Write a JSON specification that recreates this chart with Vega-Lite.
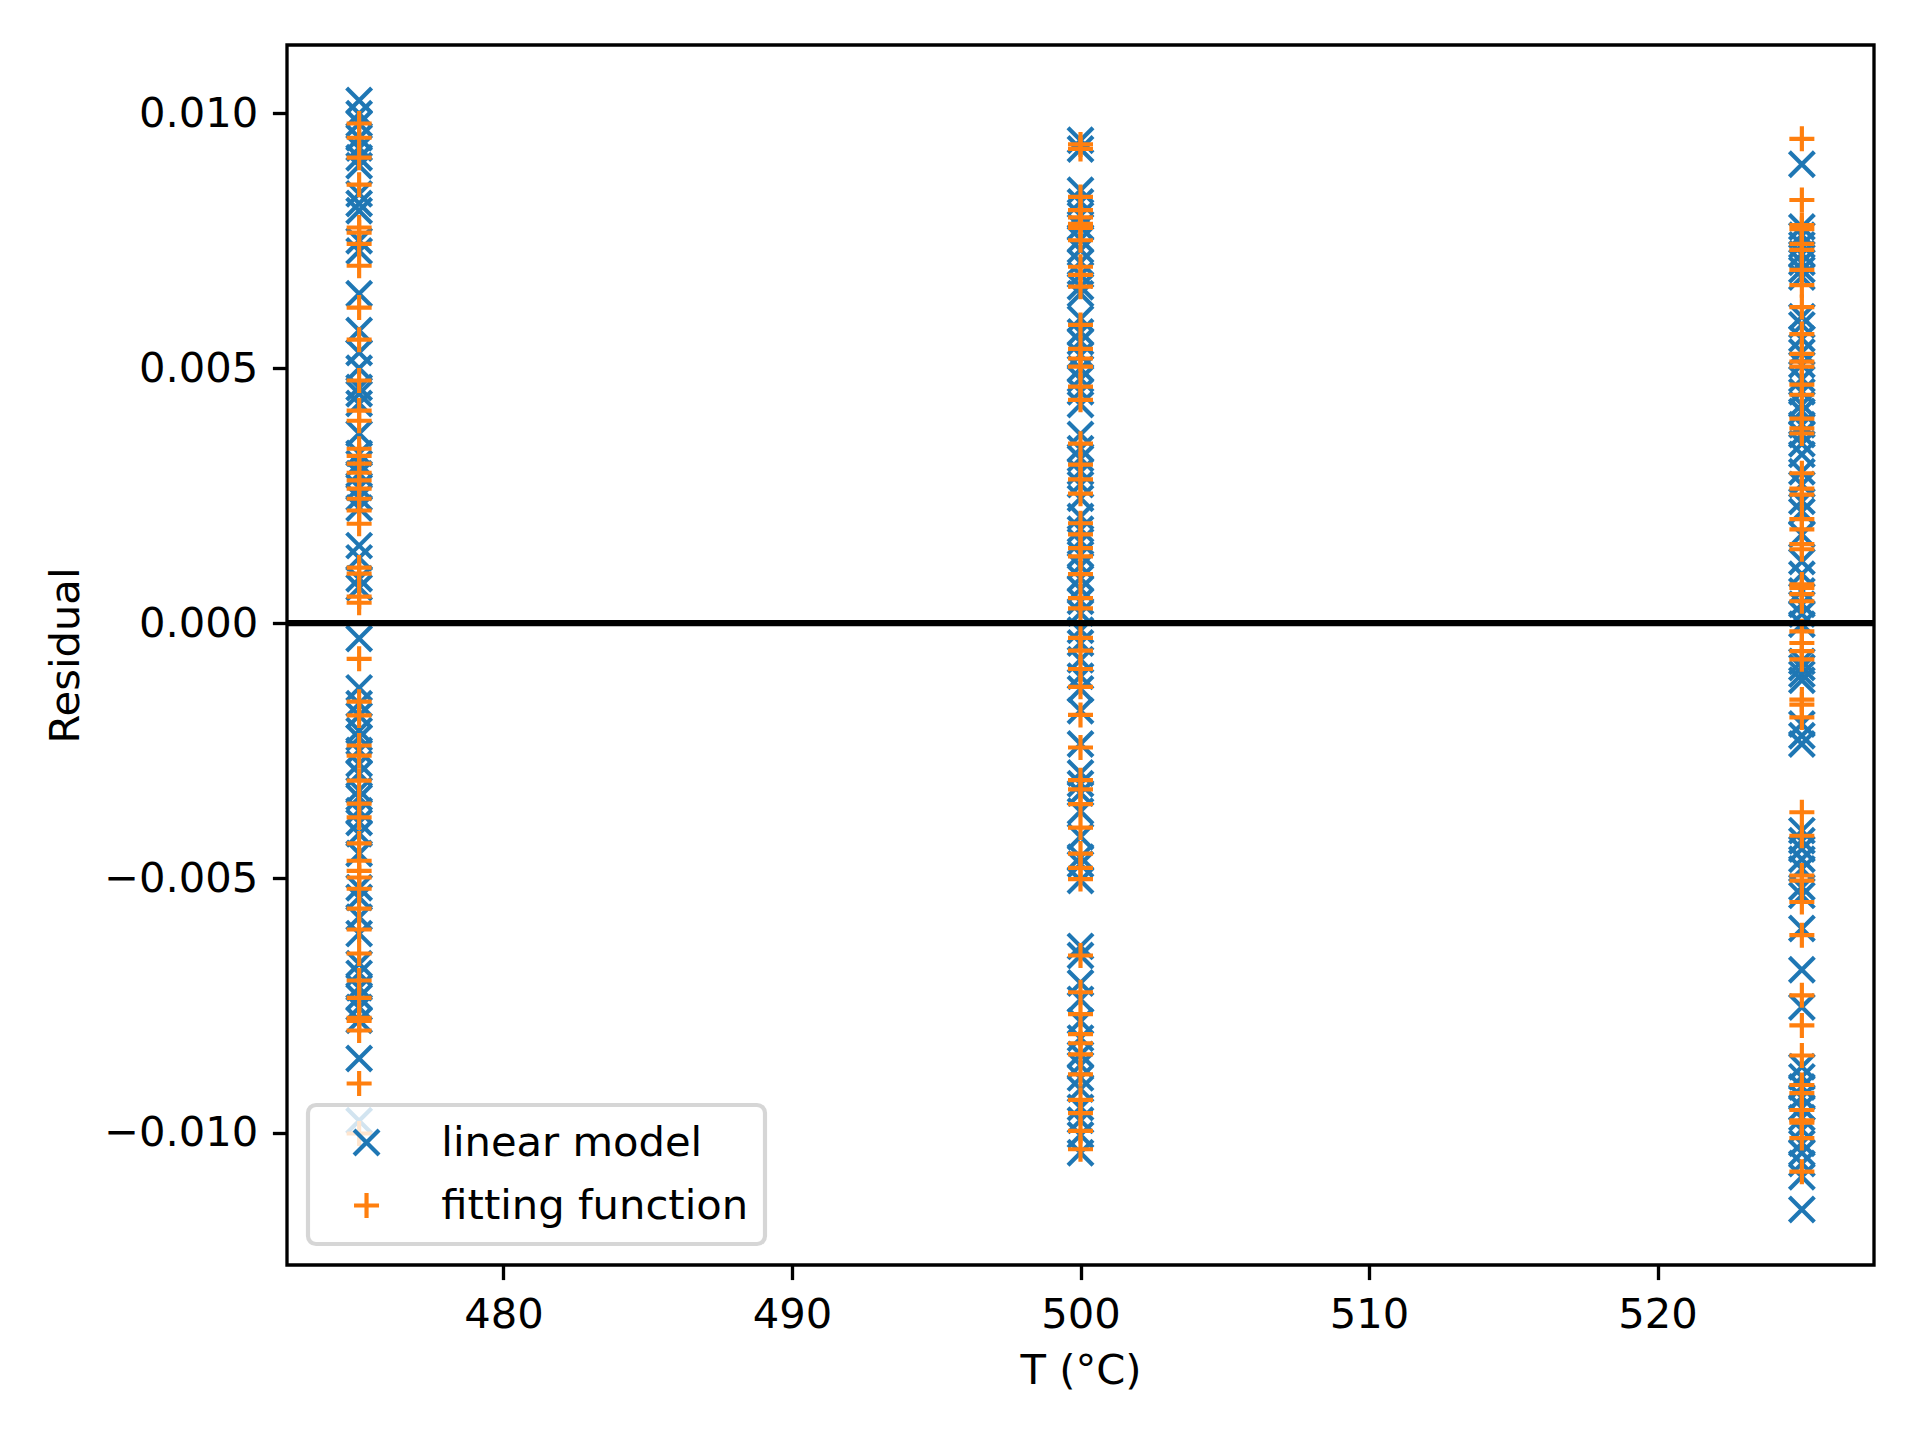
{
  "$schema": "https://vega.github.io/schema/vega-lite/v6.json",
  "width": 1587,
  "height": 1220,
  "autosize": "none",
  "padding": {"left": 287, "top": 45, "right": 46, "bottom": 175},
  "background": "white",
  "datasets": {
    "residuals": [
      {"T": 475, "m": "linear model", "r": 0.01025},
      {"T": 475, "m": "linear model", "r": 0.00999},
      {"T": 475, "m": "linear model", "r": 0.0098},
      {"T": 475, "m": "linear model", "r": 0.00952},
      {"T": 475, "m": "linear model", "r": 0.00932},
      {"T": 475, "m": "linear model", "r": 0.00913},
      {"T": 475, "m": "linear model", "r": 0.00897},
      {"T": 475, "m": "linear model", "r": 0.00842},
      {"T": 475, "m": "linear model", "r": 0.00823},
      {"T": 475, "m": "linear model", "r": 0.00809},
      {"T": 475, "m": "linear model", "r": 0.0075},
      {"T": 475, "m": "linear model", "r": 0.0073},
      {"T": 475, "m": "linear model", "r": 0.00646},
      {"T": 475, "m": "linear model", "r": 0.00574},
      {"T": 475, "m": "linear model", "r": 0.00531},
      {"T": 475, "m": "linear model", "r": 0.005},
      {"T": 475, "m": "linear model", "r": 0.00462},
      {"T": 475, "m": "linear model", "r": 0.0045},
      {"T": 475, "m": "linear model", "r": 0.00431},
      {"T": 475, "m": "linear model", "r": 0.00372},
      {"T": 475, "m": "linear model", "r": 0.00333},
      {"T": 475, "m": "linear model", "r": 0.00313},
      {"T": 475, "m": "linear model", "r": 0.00293},
      {"T": 475, "m": "linear model", "r": 0.00266},
      {"T": 475, "m": "linear model", "r": 0.00246},
      {"T": 475, "m": "linear model", "r": 0.00226},
      {"T": 475, "m": "linear model", "r": 0.00152},
      {"T": 475, "m": "linear model", "r": 0.00128},
      {"T": 475, "m": "linear model", "r": 0.00087},
      {"T": 475, "m": "linear model", "r": 0.0007},
      {"T": 475, "m": "linear model", "r": -0.0003},
      {"T": 475, "m": "linear model", "r": -0.00127},
      {"T": 475, "m": "linear model", "r": -0.00158},
      {"T": 475, "m": "linear model", "r": -0.00181},
      {"T": 475, "m": "linear model", "r": -0.00211},
      {"T": 475, "m": "linear model", "r": -0.00225},
      {"T": 475, "m": "linear model", "r": -0.0025},
      {"T": 475, "m": "linear model", "r": -0.00276},
      {"T": 475, "m": "linear model", "r": -0.00295},
      {"T": 475, "m": "linear model", "r": -0.00328},
      {"T": 475, "m": "linear model", "r": -0.00342},
      {"T": 475, "m": "linear model", "r": -0.00368},
      {"T": 475, "m": "linear model", "r": -0.00391},
      {"T": 475, "m": "linear model", "r": -0.00413},
      {"T": 475, "m": "linear model", "r": -0.00452},
      {"T": 475, "m": "linear model", "r": -0.00519},
      {"T": 475, "m": "linear model", "r": -0.00538},
      {"T": 475, "m": "linear model", "r": -0.00577},
      {"T": 475, "m": "linear model", "r": -0.00609},
      {"T": 475, "m": "linear model", "r": -0.00668},
      {"T": 475, "m": "linear model", "r": -0.00687},
      {"T": 475, "m": "linear model", "r": -0.00715},
      {"T": 475, "m": "linear model", "r": -0.00734},
      {"T": 475, "m": "linear model", "r": -0.00754},
      {"T": 475, "m": "linear model", "r": -0.00779},
      {"T": 475, "m": "linear model", "r": -0.00854},
      {"T": 475, "m": "linear model", "r": -0.00976},
      {"T": 500, "m": "linear model", "r": 0.00947},
      {"T": 500, "m": "linear model", "r": 0.0093},
      {"T": 500, "m": "linear model", "r": 0.00849},
      {"T": 500, "m": "linear model", "r": 0.00826},
      {"T": 500, "m": "linear model", "r": 0.008},
      {"T": 500, "m": "linear model", "r": 0.00777},
      {"T": 500, "m": "linear model", "r": 0.00753},
      {"T": 500, "m": "linear model", "r": 0.00732},
      {"T": 500, "m": "linear model", "r": 0.00708},
      {"T": 500, "m": "linear model", "r": 0.00683},
      {"T": 500, "m": "linear model", "r": 0.0066},
      {"T": 500, "m": "linear model", "r": 0.00646},
      {"T": 500, "m": "linear model", "r": 0.00597},
      {"T": 500, "m": "linear model", "r": 0.00571},
      {"T": 500, "m": "linear model", "r": 0.00552},
      {"T": 500, "m": "linear model", "r": 0.00526},
      {"T": 500, "m": "linear model", "r": 0.00499},
      {"T": 500, "m": "linear model", "r": 0.00479},
      {"T": 500, "m": "linear model", "r": 0.00454},
      {"T": 500, "m": "linear model", "r": 0.00429},
      {"T": 500, "m": "linear model", "r": 0.0037},
      {"T": 500, "m": "linear model", "r": 0.00342},
      {"T": 500, "m": "linear model", "r": 0.00323},
      {"T": 500, "m": "linear model", "r": 0.00297},
      {"T": 500, "m": "linear model", "r": 0.00272},
      {"T": 500, "m": "linear model", "r": 0.00245},
      {"T": 500, "m": "linear model", "r": 0.00209},
      {"T": 500, "m": "linear model", "r": 0.00184},
      {"T": 500, "m": "linear model", "r": 0.0016},
      {"T": 500, "m": "linear model", "r": 0.00135},
      {"T": 500, "m": "linear model", "r": 0.00112},
      {"T": 500, "m": "linear model", "r": 0.00088},
      {"T": 500, "m": "linear model", "r": 0.00067},
      {"T": 500, "m": "linear model", "r": 0.00043},
      {"T": 500, "m": "linear model", "r": 0.0002},
      {"T": 500, "m": "linear model", "r": -0.00014},
      {"T": 500, "m": "linear model", "r": -0.00039},
      {"T": 500, "m": "linear model", "r": -0.00072},
      {"T": 500, "m": "linear model", "r": -0.00104},
      {"T": 500, "m": "linear model", "r": -0.00129},
      {"T": 500, "m": "linear model", "r": -0.00172},
      {"T": 500, "m": "linear model", "r": -0.00237},
      {"T": 500, "m": "linear model", "r": -0.00294},
      {"T": 500, "m": "linear model", "r": -0.00315},
      {"T": 500, "m": "linear model", "r": -0.00333},
      {"T": 500, "m": "linear model", "r": -0.00369},
      {"T": 500, "m": "linear model", "r": -0.00419},
      {"T": 500, "m": "linear model", "r": -0.00459},
      {"T": 500, "m": "linear model", "r": -0.00473},
      {"T": 500, "m": "linear model", "r": -0.00505},
      {"T": 500, "m": "linear model", "r": -0.00634},
      {"T": 500, "m": "linear model", "r": -0.00652},
      {"T": 500, "m": "linear model", "r": -0.00706},
      {"T": 500, "m": "linear model", "r": -0.00738},
      {"T": 500, "m": "linear model", "r": -0.00781},
      {"T": 500, "m": "linear model", "r": -0.00814},
      {"T": 500, "m": "linear model", "r": -0.00846},
      {"T": 500, "m": "linear model", "r": -0.00867},
      {"T": 500, "m": "linear model", "r": -0.00892},
      {"T": 500, "m": "linear model", "r": -0.00914},
      {"T": 500, "m": "linear model", "r": -0.0095},
      {"T": 500, "m": "linear model", "r": -0.00975},
      {"T": 500, "m": "linear model", "r": -0.01004},
      {"T": 500, "m": "linear model", "r": -0.01039},
      {"T": 525, "m": "linear model", "r": 0.009},
      {"T": 525, "m": "linear model", "r": 0.00777},
      {"T": 525, "m": "linear model", "r": 0.00761},
      {"T": 525, "m": "linear model", "r": 0.00742},
      {"T": 525, "m": "linear model", "r": 0.00724},
      {"T": 525, "m": "linear model", "r": 0.00708},
      {"T": 525, "m": "linear model", "r": 0.00693},
      {"T": 525, "m": "linear model", "r": 0.00679},
      {"T": 525, "m": "linear model", "r": 0.00601},
      {"T": 525, "m": "linear model", "r": 0.00585},
      {"T": 525, "m": "linear model", "r": 0.00558},
      {"T": 525, "m": "linear model", "r": 0.00532},
      {"T": 525, "m": "linear model", "r": 0.00507},
      {"T": 525, "m": "linear model", "r": 0.00479},
      {"T": 525, "m": "linear model", "r": 0.00454},
      {"T": 525, "m": "linear model", "r": 0.00429},
      {"T": 525, "m": "linear model", "r": 0.00415},
      {"T": 525, "m": "linear model", "r": 0.00389},
      {"T": 525, "m": "linear model", "r": 0.0037},
      {"T": 525, "m": "linear model", "r": 0.00352},
      {"T": 525, "m": "linear model", "r": 0.00331},
      {"T": 525, "m": "linear model", "r": 0.00297},
      {"T": 525, "m": "linear model", "r": 0.00272},
      {"T": 525, "m": "linear model", "r": 0.00239},
      {"T": 525, "m": "linear model", "r": 0.00219},
      {"T": 525, "m": "linear model", "r": 0.00174},
      {"T": 525, "m": "linear model", "r": 0.00121},
      {"T": 525, "m": "linear model", "r": 0.00096},
      {"T": 525, "m": "linear model", "r": 0.00063},
      {"T": 525, "m": "linear model", "r": 0.00037},
      {"T": 525, "m": "linear model", "r": 0.00018},
      {"T": 525, "m": "linear model", "r": -0.00002},
      {"T": 525, "m": "linear model", "r": -0.00075},
      {"T": 525, "m": "linear model", "r": -0.00087},
      {"T": 525, "m": "linear model", "r": -0.001},
      {"T": 525, "m": "linear model", "r": -0.00112},
      {"T": 525, "m": "linear model", "r": -0.00198},
      {"T": 525, "m": "linear model", "r": -0.00221},
      {"T": 525, "m": "linear model", "r": -0.00237},
      {"T": 525, "m": "linear model", "r": -0.00407},
      {"T": 525, "m": "linear model", "r": -0.00427},
      {"T": 525, "m": "linear model", "r": -0.00443},
      {"T": 525, "m": "linear model", "r": -0.00463},
      {"T": 525, "m": "linear model", "r": -0.00482},
      {"T": 525, "m": "linear model", "r": -0.00518},
      {"T": 525, "m": "linear model", "r": -0.00534},
      {"T": 525, "m": "linear model", "r": -0.00599},
      {"T": 525, "m": "linear model", "r": -0.0068},
      {"T": 525, "m": "linear model", "r": -0.00753},
      {"T": 525, "m": "linear model", "r": -0.0087},
      {"T": 525, "m": "linear model", "r": -0.0089},
      {"T": 525, "m": "linear model", "r": -0.0091},
      {"T": 525, "m": "linear model", "r": -0.0093},
      {"T": 525, "m": "linear model", "r": -0.0095},
      {"T": 525, "m": "linear model", "r": -0.0097},
      {"T": 525, "m": "linear model", "r": -0.00994},
      {"T": 525, "m": "linear model", "r": -0.0102},
      {"T": 525, "m": "linear model", "r": -0.01039},
      {"T": 525, "m": "linear model", "r": -0.0106},
      {"T": 525, "m": "linear model", "r": -0.01086},
      {"T": 525, "m": "linear model", "r": -0.0115},
      {"T": 475, "m": "fitting function", "r": 0.0098},
      {"T": 475, "m": "fitting function", "r": 0.00952},
      {"T": 475, "m": "fitting function", "r": 0.00913},
      {"T": 475, "m": "fitting function", "r": 0.0086},
      {"T": 475, "m": "fitting function", "r": 0.00776},
      {"T": 475, "m": "fitting function", "r": 0.00766},
      {"T": 475, "m": "fitting function", "r": 0.00744},
      {"T": 475, "m": "fitting function", "r": 0.00701},
      {"T": 475, "m": "fitting function", "r": 0.00619},
      {"T": 475, "m": "fitting function", "r": 0.00556},
      {"T": 475, "m": "fitting function", "r": 0.00476},
      {"T": 475, "m": "fitting function", "r": 0.00417},
      {"T": 475, "m": "fitting function", "r": 0.00397},
      {"T": 475, "m": "fitting function", "r": 0.00342},
      {"T": 475, "m": "fitting function", "r": 0.00328},
      {"T": 475, "m": "fitting function", "r": 0.00313},
      {"T": 475, "m": "fitting function", "r": 0.00295},
      {"T": 475, "m": "fitting function", "r": 0.0028},
      {"T": 475, "m": "fitting function", "r": 0.00264},
      {"T": 475, "m": "fitting function", "r": 0.00244},
      {"T": 475, "m": "fitting function", "r": 0.00221},
      {"T": 475, "m": "fitting function", "r": 0.00195},
      {"T": 475, "m": "fitting function", "r": 0.00109},
      {"T": 475, "m": "fitting function", "r": 0.00097},
      {"T": 475, "m": "fitting function", "r": 0.00052},
      {"T": 475, "m": "fitting function", "r": 0.0004},
      {"T": 475, "m": "fitting function", "r": -0.0007},
      {"T": 475, "m": "fitting function", "r": -0.00154},
      {"T": 475, "m": "fitting function", "r": -0.00181},
      {"T": 475, "m": "fitting function", "r": -0.0024},
      {"T": 475, "m": "fitting function", "r": -0.0026},
      {"T": 475, "m": "fitting function", "r": -0.00309},
      {"T": 475, "m": "fitting function", "r": -0.00354},
      {"T": 475, "m": "fitting function", "r": -0.00381},
      {"T": 475, "m": "fitting function", "r": -0.00432},
      {"T": 475, "m": "fitting function", "r": -0.00466},
      {"T": 475, "m": "fitting function", "r": -0.00486},
      {"T": 475, "m": "fitting function", "r": -0.00499},
      {"T": 475, "m": "fitting function", "r": -0.00521},
      {"T": 475, "m": "fitting function", "r": -0.0056},
      {"T": 475, "m": "fitting function", "r": -0.00601},
      {"T": 475, "m": "fitting function", "r": -0.00648},
      {"T": 475, "m": "fitting function", "r": -0.00701},
      {"T": 475, "m": "fitting function", "r": -0.00735},
      {"T": 475, "m": "fitting function", "r": -0.00774},
      {"T": 475, "m": "fitting function", "r": -0.0078},
      {"T": 475, "m": "fitting function", "r": -0.00799},
      {"T": 475, "m": "fitting function", "r": -0.00903},
      {"T": 475, "m": "fitting function", "r": -0.01001},
      {"T": 500, "m": "fitting function", "r": 0.00939},
      {"T": 500, "m": "fitting function", "r": 0.0093},
      {"T": 500, "m": "fitting function", "r": 0.00836},
      {"T": 500, "m": "fitting function", "r": 0.0081},
      {"T": 500, "m": "fitting function", "r": 0.00796},
      {"T": 500, "m": "fitting function", "r": 0.00783},
      {"T": 500, "m": "fitting function", "r": 0.00775},
      {"T": 500, "m": "fitting function", "r": 0.00751},
      {"T": 500, "m": "fitting function", "r": 0.00699},
      {"T": 500, "m": "fitting function", "r": 0.00683},
      {"T": 500, "m": "fitting function", "r": 0.0066},
      {"T": 500, "m": "fitting function", "r": 0.00585},
      {"T": 500, "m": "fitting function", "r": 0.00538},
      {"T": 500, "m": "fitting function", "r": 0.00519},
      {"T": 500, "m": "fitting function", "r": 0.00503},
      {"T": 500, "m": "fitting function", "r": 0.00464},
      {"T": 500, "m": "fitting function", "r": 0.00438},
      {"T": 500, "m": "fitting function", "r": 0.00352},
      {"T": 500, "m": "fitting function", "r": 0.00311},
      {"T": 500, "m": "fitting function", "r": 0.00282},
      {"T": 500, "m": "fitting function", "r": 0.00254},
      {"T": 500, "m": "fitting function", "r": 0.00196},
      {"T": 500, "m": "fitting function", "r": 0.00174},
      {"T": 500, "m": "fitting function", "r": 0.00147},
      {"T": 500, "m": "fitting function", "r": 0.00131},
      {"T": 500, "m": "fitting function", "r": 0.00096},
      {"T": 500, "m": "fitting function", "r": 0.00049},
      {"T": 500, "m": "fitting function", "r": 0.00029},
      {"T": 500, "m": "fitting function", "r": -0.00029},
      {"T": 500, "m": "fitting function", "r": -0.00054},
      {"T": 500, "m": "fitting function", "r": -0.0009},
      {"T": 500, "m": "fitting function", "r": -0.00125},
      {"T": 500, "m": "fitting function", "r": -0.0018},
      {"T": 500, "m": "fitting function", "r": -0.00244},
      {"T": 500, "m": "fitting function", "r": -0.00308},
      {"T": 500, "m": "fitting function", "r": -0.00326},
      {"T": 500, "m": "fitting function", "r": -0.00355},
      {"T": 500, "m": "fitting function", "r": -0.00401},
      {"T": 500, "m": "fitting function", "r": -0.00452},
      {"T": 500, "m": "fitting function", "r": -0.0048},
      {"T": 500, "m": "fitting function", "r": -0.00502},
      {"T": 500, "m": "fitting function", "r": -0.00652},
      {"T": 500, "m": "fitting function", "r": -0.00724},
      {"T": 500, "m": "fitting function", "r": -0.00767},
      {"T": 500, "m": "fitting function", "r": -0.00806},
      {"T": 500, "m": "fitting function", "r": -0.00824},
      {"T": 500, "m": "fitting function", "r": -0.00846},
      {"T": 500, "m": "fitting function", "r": -0.00885},
      {"T": 500, "m": "fitting function", "r": -0.00935},
      {"T": 500, "m": "fitting function", "r": -0.00961},
      {"T": 500, "m": "fitting function", "r": -0.00996},
      {"T": 500, "m": "fitting function", "r": -0.01032},
      {"T": 525, "m": "fitting function", "r": 0.0095},
      {"T": 525, "m": "fitting function", "r": 0.0083},
      {"T": 525, "m": "fitting function", "r": 0.00781},
      {"T": 525, "m": "fitting function", "r": 0.00773},
      {"T": 525, "m": "fitting function", "r": 0.00744},
      {"T": 525, "m": "fitting function", "r": 0.00732},
      {"T": 525, "m": "fitting function", "r": 0.00693},
      {"T": 525, "m": "fitting function", "r": 0.00663},
      {"T": 525, "m": "fitting function", "r": 0.0062},
      {"T": 525, "m": "fitting function", "r": 0.00567},
      {"T": 525, "m": "fitting function", "r": 0.00528},
      {"T": 525, "m": "fitting function", "r": 0.00513},
      {"T": 525, "m": "fitting function", "r": 0.00503},
      {"T": 525, "m": "fitting function", "r": 0.00468},
      {"T": 525, "m": "fitting function", "r": 0.00448},
      {"T": 525, "m": "fitting function", "r": 0.00401},
      {"T": 525, "m": "fitting function", "r": 0.00382},
      {"T": 525, "m": "fitting function", "r": 0.00372},
      {"T": 525, "m": "fitting function", "r": 0.00294},
      {"T": 525, "m": "fitting function", "r": 0.00264},
      {"T": 525, "m": "fitting function", "r": 0.00252},
      {"T": 525, "m": "fitting function", "r": 0.00204},
      {"T": 525, "m": "fitting function", "r": 0.00184},
      {"T": 525, "m": "fitting function", "r": 0.00155},
      {"T": 525, "m": "fitting function", "r": 0.00145},
      {"T": 525, "m": "fitting function", "r": 0.00076},
      {"T": 525, "m": "fitting function", "r": 0.00069},
      {"T": 525, "m": "fitting function", "r": 0.00057},
      {"T": 525, "m": "fitting function", "r": 0.00043},
      {"T": 525, "m": "fitting function", "r": -0.00016},
      {"T": 525, "m": "fitting function", "r": -0.00039},
      {"T": 525, "m": "fitting function", "r": -0.00055},
      {"T": 525, "m": "fitting function", "r": -0.00071},
      {"T": 525, "m": "fitting function", "r": -0.0015},
      {"T": 525, "m": "fitting function", "r": -0.0016},
      {"T": 525, "m": "fitting function", "r": -0.00185},
      {"T": 525, "m": "fitting function", "r": -0.00371},
      {"T": 525, "m": "fitting function", "r": -0.00417},
      {"T": 525, "m": "fitting function", "r": -0.00495},
      {"T": 525, "m": "fitting function", "r": -0.00505},
      {"T": 525, "m": "fitting function", "r": -0.00547},
      {"T": 525, "m": "fitting function", "r": -0.00612},
      {"T": 525, "m": "fitting function", "r": -0.0073},
      {"T": 525, "m": "fitting function", "r": -0.00789},
      {"T": 525, "m": "fitting function", "r": -0.00848},
      {"T": 525, "m": "fitting function", "r": -0.00906},
      {"T": 525, "m": "fitting function", "r": -0.00922},
      {"T": 525, "m": "fitting function", "r": -0.00955},
      {"T": 525, "m": "fitting function", "r": -0.00975},
      {"T": 525, "m": "fitting function", "r": -0.0098},
      {"T": 525, "m": "fitting function", "r": -0.0101},
      {"T": 525, "m": "fitting function", "r": -0.01076}
    ],
    "zero": [{"r": 0}]
  },
  "layer": [
    {
      "data": {"name": "residuals"},
      "mark": {"type": "point", "filled": false, "opacity": 1, "size": 625, "strokeWidth": 4.17},
      "encoding": {
        "x": {
          "field": "T",
          "type": "quantitative",
          "title": "T (°C)",
          "scale": {"domain": [472.5, 527.5], "nice": false, "zero": false},
          "axis": {"values": [480, 490, 500, 510, 520], "format": "d", "titlePadding": 15}
        },
        "y": {
          "field": "r",
          "type": "quantitative",
          "title": "Residual",
          "scale": {"domain": [-0.01259, 0.01134], "nice": false, "zero": false},
          "axis": {"values": [-0.01, -0.005, 0, 0.005, 0.01], "format": ".3f", "titlePadding": 16}
        },
        "color": {
          "field": "m",
          "type": "nominal",
          "scale": {"domain": ["linear model", "fitting function"], "range": ["#1f77b4", "#ff7f0e"]},
          "legend": {"title": null}
        },
        "shape": {
          "field": "m",
          "type": "nominal",
          "scale": {
            "domain": ["linear model", "fitting function"],
            "range": ["M-1,-1L1,1M-1,1L1,-1", "M-1,0L1,0M0,-1L0,1"]
          },
          "legend": {"title": null}
        }
      }
    },
    {
      "data": {"name": "zero"},
      "mark": {"type": "rule", "color": "black", "strokeWidth": 6.25},
      "encoding": {
        "y": {"field": "r", "type": "quantitative"}
      }
    }
  ],
  "config": {
    "font": "DejaVu Sans",
    "view": {"stroke": "black", "strokeWidth": 3.33},
    "axis": {
      "grid": false,
      "domain": false,
      "tickColor": "black",
      "tickWidth": 3.33,
      "tickSize": 14.6,
      "labelColor": "black",
      "labelFontSize": 41.67,
      "labelPadding": 14.6,
      "titleColor": "black",
      "titleFontSize": 41.67,
      "titleFontWeight": "normal"
    },
    "legend": {
      "orient": "bottom-left",
      "offset": 20.8,
      "padding": 16.7,
      "fillColor": "rgba(255,255,255,0.8)",
      "strokeColor": "rgba(204,204,204,0.8)",
      "strokeWidth": 4.17,
      "cornerRadius": 8,
      "labelFontSize": 41.67,
      "labelColor": "black",
      "labelLimit": 0,
      "symbolSize": 625,
      "symbolStrokeWidth": 4.17,
      "symbolOffset": 21,
      "labelOffset": 54,
      "rowPadding": 19
    }
  }
}
